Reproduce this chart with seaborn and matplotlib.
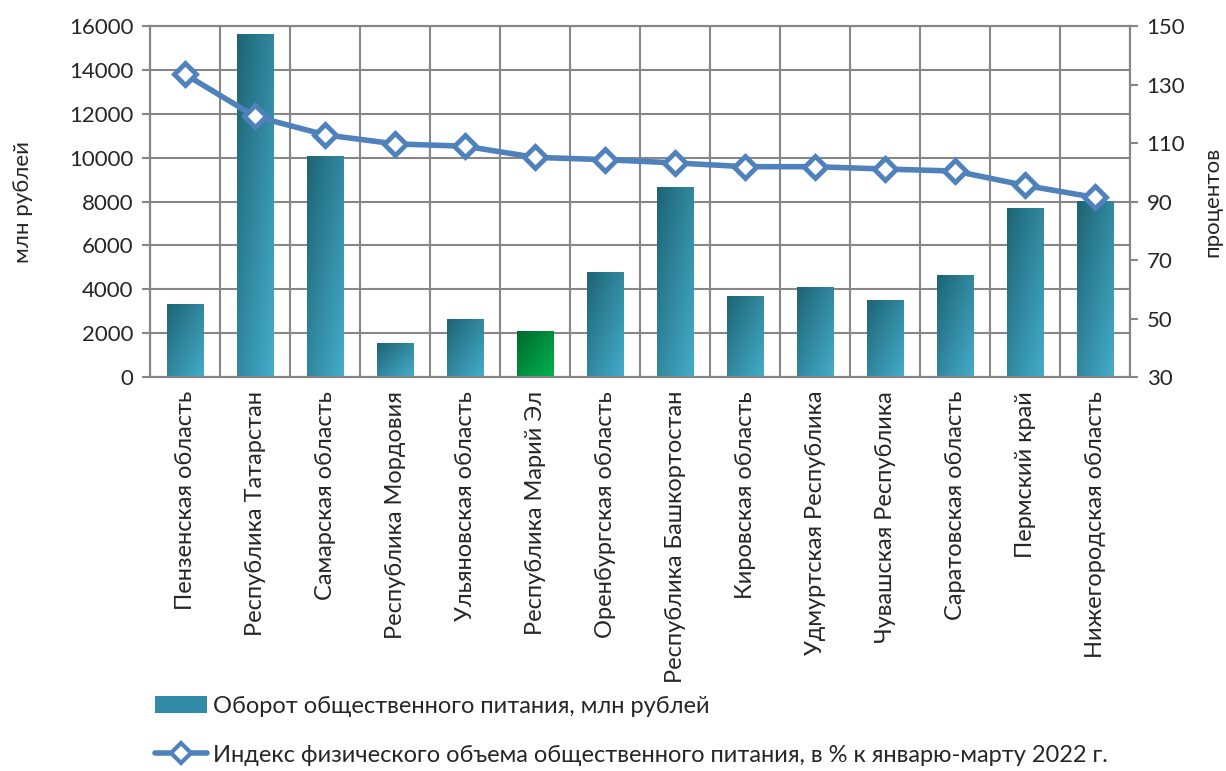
import numpy as np
import pandas as pd
import matplotlib
matplotlib.use("Agg")
import matplotlib.pyplot as plt
import seaborn as sns
from matplotlib.colors import LinearSegmentedColormap
from matplotlib.patches import Patch
from matplotlib.lines import Line2D

categories = ["Пензенская область", "Республика Татарстан", "Самарская область",
              "Республика Мордовия", "Ульяновская область", "Республика Марий Эл",
              "Оренбургская область", "Республика Башкортостан", "Кировская область",
              "Удмуртская Республика", "Чувашская Республика", "Саратовская область",
              "Пермский край", "Нижегородская область"]
turnover = [3340, 15630, 10080, 1560, 2660, 2110, 4800, 8660, 3700, 4110, 3520, 4660, 7710, 8030]
index_pct = [133.5, 119.1, 112.8, 109.7, 108.9, 105.1, 104.3, 103.2, 101.9, 101.9, 101.1, 100.4, 95.5, 91.4]
left_ticks = [0, 2000, 4000, 6000, 8000, 10000, 12000, 14000, 16000]
right_ticks = [30, 50, 70, 90, 110, 130, 150]
bar_label = "Оборот общественного питания, млн рублей"
line_label = "Индекс физического объема общественного питания, в % к январю-марту 2022 г."
highlight = "Республика Марий Эл"

sns.set_theme(style="white")
plt.rcParams['font.family'] = ['Lato', 'DejaVu Sans']

df = pd.DataFrame({"region": categories, "turnover": turnover, "index": index_pct})
df["pos"] = np.arange(len(df))

fig = plt.figure(figsize=(12.26, 7.71), dpi=100)
ax = fig.add_axes([150/1226, 1-377/771, 980/1226, 351/771])

teal_dark, teal_light = "#1e6474", "#44acca"
green_dark, green_light = "#006a2c", "#00b150"
palette = {c: ("#00904a" if c == highlight else "#318ba6") for c in categories}
sns.barplot(data=df, x="region", y="turnover", hue="region", palette=palette,
            width=0.52, ax=ax, legend=False, saturation=1, zorder=2)

# gradient fill on bars
nv, nu = 60, 30
u = np.linspace(0, 1, nu)[None, :]
v = np.linspace(0, 1, nv)[:, None]
T = (u + (1 - v)) / 2.0
for p, c in zip(ax.patches, categories):
    if c == highlight:
        cmap = LinearSegmentedColormap.from_list("g", [green_dark, green_light])
    else:
        cmap = LinearSegmentedColormap.from_list("t", [teal_dark, teal_light])
    x0, y0, w, h = p.get_x(), p.get_y(), p.get_width(), p.get_height()
    im = ax.imshow(T, extent=[x0, x0 + w, y0, y0 + h], origin="lower", cmap=cmap,
                   aspect="auto", zorder=3, vmin=0, vmax=1, interpolation="bilinear")
    im.set_clip_path(p)
    p.set_edgecolor("none")

ax.set_xlim(-0.5, len(categories) - 0.5)
ax.set_ylim(0, 16000)
ax.set_yticks(left_ticks)
ax.set_yticklabels([str(t) for t in left_ticks], fontsize=16)
ax.set_xticks(np.arange(len(categories)))
ax.set_xticklabels(categories, rotation=90, fontsize=17)
ax.set_xticks(np.arange(len(categories) + 1) - 0.5, minor=True)
ax.tick_params(axis="x", which="major", length=0, pad=10)
ax.tick_params(axis="x", which="minor", length=8, width=1.5, color="#868686", direction="out")
ax.tick_params(axis="y", length=6, width=1.5, color="#868686", direction="out", left=True, pad=6)
ax.grid(True, axis="y", color="#878787", lw=1.5)
ax.grid(True, axis="x", which="minor", color="#878787", lw=1.5)
ax.set_axisbelow(True)
ax.set_xlabel("")
ax.set_ylabel("млн рублей", fontsize=16, labelpad=26)
for s in ax.spines.values():
    s.set_color("#868686")
    s.set_linewidth(1.5)

ax2 = ax.twinx()
sns.lineplot(data=df, x="pos", y="index", ax=ax2, color="#4f81bd", lw=4,
             marker="D", markersize=11, markerfacecolor="white",
             markeredgecolor="#4f81bd", markeredgewidth=3.5, zorder=5)
ax2.set_xlim(-0.5, len(categories) - 0.5)
ax2.set_ylim(30, 150)
ax2.set_yticks(right_ticks)
ax2.set_yticklabels([str(t) for t in right_ticks], fontsize=16)
ax2.tick_params(axis="y", length=6, width=1.5, color="#868686", direction="out", right=True, pad=6)
ax2.set_ylabel("процентов", fontsize=16, labelpad=12)
ax2.set_xlabel("")
ax2.grid(False)
for s in ax2.spines.values():
    s.set_color("#868686")
    s.set_linewidth(1.5)

handles = [Patch(facecolor="#318ba6", edgecolor="none"),
           Line2D([0], [0], color="#4f81bd", lw=4, marker="D", markersize=10,
                  markerfacecolor="white", markeredgecolor="#4f81bd", markeredgewidth=3)]
fig.legend(handles, [bar_label, line_label], loc="upper left",
           bbox_to_anchor=(155/1226, 1-696/771), frameon=False, fontsize=17,
           handlelength=2.2, handleheight=0.75, handletextpad=0.25, labelspacing=1.17,
           borderaxespad=0, borderpad=0)

fig.savefig("out.png", dpi=100)
